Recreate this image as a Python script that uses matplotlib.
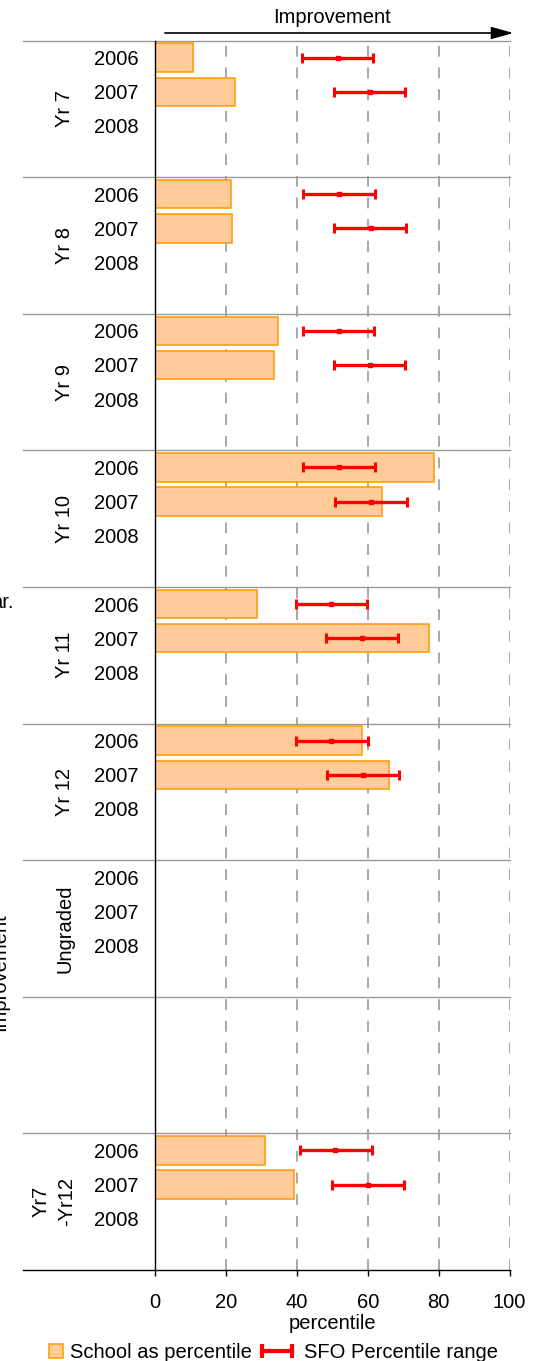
import numpy as np
import matplotlib
matplotlib.use("Agg")
import matplotlib.pyplot as plt
from matplotlib.lines import Line2D

plt.rcParams['font.family'] = ['Liberation Sans', 'DejaVu Sans']
plt.rcParams['font.size'] = 14.5

# data
groups = ["Yr 7", "Yr 8", "Yr 9", "Yr 10", "Yr 11", "Yr 12", "Ungraded", "", "Yr7\n-Yr12"]
years = ["2006", "2007", "2008"]
has_years = [True, True, True, True, True, True, True, False, True]

nan = np.nan
school_2006 = [10.7, 21.3, 34.6, 78.7, 28.9, 58.5, nan, nan, 31.0]
school_2007 = [22.5, 21.6, 33.7, 64.1, 77.2, 65.9, nan, nan, 39.1]

sfo_low_2006 = [41.5, 41.8, 41.8, 41.8, 39.7, 39.9, nan, nan, 40.9]
sfo_mid_2006 = [51.5, 51.9, 51.9, 51.9, 49.7, 49.6, nan, nan, 50.8]
sfo_high_2006 = [61.6, 62.0, 61.7, 62.1, 59.7, 60.0, nan, nan, 61.1]
sfo_low_2007 = [50.5, 50.5, 50.5, 50.7, 48.3, 48.6, nan, nan, 50.0]
sfo_mid_2007 = [60.6, 60.9, 60.6, 60.9, 58.3, 58.6, nan, nan, 60.1]
sfo_high_2007 = [70.5, 70.7, 70.6, 71.0, 68.5, 68.7, nan, nan, 70.1]

xticks = [0, 20, 40, 60, 80, 100]

W, H = 546, 1361
fig = plt.figure(figsize=(W / 100, H / 100), dpi=100)
ax = fig.add_axes([155 / W, 91 / H, 354.5 / W, 1229.5 / H])

n = len(groups)
slots = 4
ax.set_xlim(0, 100)
ax.set_ylim(n * slots, 0)

# bars and SFO ranges, one row per year
for s, (vals, lo, mid, hi) in enumerate([
        (school_2006, sfo_low_2006, sfo_mid_2006, sfo_high_2006),
        (school_2007, sfo_low_2007, sfo_mid_2007, sfo_high_2007)]):
    vals = np.array(vals)
    lo, mid, hi = np.array(lo), np.array(mid), np.array(hi)
    y = np.arange(n) * slots + s + 0.5
    ok = ~np.isnan(vals)
    ax.barh(y[ok], vals[ok], height=0.83, color='#ffcc99', edgecolor='#ff9900',
            linewidth=1.1, zorder=2)
    ok = ~np.isnan(mid)
    ax.errorbar(mid[ok], y[ok], xerr=[mid[ok] - lo[ok], hi[ok] - mid[ok]],
                fmt='s', color='red', ms=3, elinewidth=2.4, capsize=3.6,
                capthick=2.2, zorder=3)

# year tick labels
tick_pos, tick_lab = [], []
for g in range(n):
    if has_years[g]:
        for s, yr in enumerate(years):
            tick_pos.append(g * slots + s + 0.5)
            tick_lab.append(yr)
ax.set_yticks(tick_pos, tick_lab)
ax.tick_params(axis='y', length=0, pad=12)

# group labels
for g, name in enumerate(groups):
    xg = -0.285 if '\n' in name else -0.255
    ax.text(xg, g * slots + 2, name, transform=ax.get_yaxis_transform(),
            rotation=90, ha='center', va='center', multialignment='center',
            linespacing=1.45)

# group separators extending into the label area
ytr = ax.get_yaxis_transform()
for g in range(n):
    ax.plot([-0.372, 1], [g * slots] * 2, transform=ytr, color='#999999',
            lw=1.0, clip_on=False, zorder=1)
ax.plot([-0.372, 1], [n * slots] * 2, transform=ytr, color='black',
        lw=1.0, clip_on=False, zorder=4)

# x axis
ax.set_xticks(xticks)
ax.tick_params(axis='x', direction='out', length=4.3, width=1, pad=12)
ax.set_xlabel('percentile', labelpad=2)
for v in xticks[1:]:
    ax.axvline(v, color='#999999', lw=1.2, ls=(0, (6.5, 6.5)), zorder=1)
for side in ['top', 'right', 'bottom']:
    ax.spines[side].set_visible(False)
ax.spines['left'].set_color('black')
ax.spines['left'].set_linewidth(1.0)
ax.spines['left'].set_zorder(4)

# improvement arrow above the plot
ax.annotate('', xy=(1.011, 1.0061), xytext=(0.028, 1.0061), xycoords='axes fraction',
            arrowprops=dict(arrowstyle='-|>,head_length=0.9,head_width=0.25',
                            mutation_scale=15, lw=1.2, color='black',
                            shrinkA=0, shrinkB=0))
ax.text(0.4993, 1.0142, 'Improvement', transform=ax.transAxes, ha='center',
        va='baseline')

# texts cut off at the left edge, as in the source image
fig.text(9 / W, 1 - 972 / H, 'Improvement', rotation=90, ha='right', va='center')
fig.text(14 / W, 1 - 603 / H, 'ar.', ha='right', va='center')

# legend: two entries placed separately so each handle hugs its text
sq = Line2D([], [], marker='s', ls='none', ms=10, markerfacecolor='#ffcc99',
            markeredgecolor='#ff9900', markeredgewidth=1.1)
rng = Line2D([], [], color='red', lw=3, marker='|', ms=10, mew=3)
fig.legend([sq], ['School as percentile'], loc='center left',
           bbox_to_anchor=(48 / W, 8 / H), frameon=False,
           handlelength=0.8, handletextpad=0.3, borderaxespad=0, borderpad=0)
fig.legend([rng], ['SFO Percentile range'], loc='center left',
           bbox_to_anchor=(256 / W, 8 / H), frameon=False, numpoints=2,
           handlelength=2.1, handletextpad=0.3, borderaxespad=0, borderpad=0)

fig.savefig('out.png', dpi=100)
